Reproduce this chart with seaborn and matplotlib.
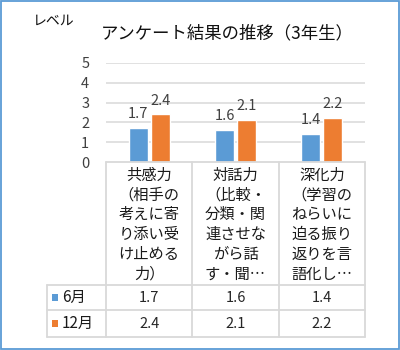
import matplotlib
matplotlib.use("Agg")
import matplotlib.pyplot as plt
import seaborn as sns
import pandas as pd
from matplotlib.patches import Rectangle
from matplotlib.lines import Line2D
from matplotlib.transforms import blended_transform_factory

# ---- data ----
categories = [
    "共感力\n（相手の\n考えに寄\nり添い受\nけ止める\n力）",
    "対話力\n（比較・\n分類・関\n連させな\nがら話\nす・聞…",
    "深化力\n（学習の\nねらいに\n迫る振り\n返りを言\n語化し…",
]
series_names = ["6月", "12月"]
june = [1.7, 1.6, 1.4]
december = [2.4, 2.1, 2.2]
yticks = [0, 1, 2, 3, 4, 5]
title = "アンケート結果の推移（3年生）"
ylabel = "レベル"
colors = ["#5B9BD5", "#ED7D31"]

df = pd.DataFrame({
    "cat": categories * 2,
    "series": [series_names[0]] * 3 + [series_names[1]] * 3,
    "value": june + december,
})

sns.set_theme(style="white")
plt.rcParams["font.family"] = ["Noto Sans CJK JP", "DejaVu Sans"]

W, H = 400, 350
fig = plt.figure(figsize=(W / 100, H / 100), dpi=100)
fig.patch.set_facecolor("white")

def fx(px):
    return px / W

def fy(py):
    return 1 - py / H

# plot area in pixels
L, R, T, B = 106, 365, 63, 162
ax = fig.add_axes([fx(L), fy(B), fx(R) - fx(L), fy(T) - fy(B)])

sns.barplot(data=df, x="cat", y="value", hue="series", palette=colors,
            width=0.51, gap=0.14, ax=ax, legend=False, saturation=1)
ax.set_xlim(-0.5, 2.5)
ax.set_ylim(0, 5)
ax.set_yticks(yticks)
ax.set_yticklabels([str(t) for t in yticks], fontsize=10.5, color="#404040")
ax.tick_params(axis="y", length=0, pad=12)
ax.set_xticks([])
ax.set_xlabel("")
ax.set_ylabel("")
for s in ax.spines.values():
    s.set_visible(False)
for t in yticks[1:]:
    ax.axhline(t, color="#D9D9D9", lw=1.1, zorder=0)
ax.set_axisbelow(True)

for cont in ax.containers:
    ax.bar_label(cont, fmt="%.1f", padding=5, fontsize=10.5, color="#404040")

# ---- data table below the plot ----
tline = dict(color="#D9D9D9", lw=1.3)
TAB_L = 47
ROW1, ROW2, ROW3 = 285, 310, 337
trans_x = blended_transform_factory(ax.transData, fig.transFigure)

# horizontal lines
fig.add_artist(Line2D([fx(L), fx(R)], [fy(B), fy(B)], **tline))
for yy in (ROW1, ROW2, ROW3):
    fig.add_artist(Line2D([fx(TAB_L), fx(R)], [fy(yy), fy(yy)], **tline))
# vertical lines at category boundaries
for xb in [-0.5, 0.5, 1.5, 2.5]:
    fig.add_artist(Line2D([xb, xb], [fy(B), fy(ROW3)], transform=trans_x, **tline))
fig.add_artist(Line2D([fx(TAB_L), fx(TAB_L)], [fy(ROW1), fy(ROW3)], **tline))

# category labels
for i, lab in enumerate(categories):
    for j, line in enumerate(lab.split("\n")):
        fig.text(i, fy(175 + j * 19.8), line, transform=trans_x,
                 ha="center", va="center", fontsize=11, color="#1a1a1a")

# values rows
rows = [june, december]
row_centers = [(ROW1 + ROW2) / 2, (ROW2 + ROW3) / 2]
for r, (vals, name, col) in enumerate(zip(rows, series_names, colors)):
    yc = row_centers[r]
    for i, v in enumerate(vals):
        fig.text(i, fy(yc), f"{v:.1f}", transform=trans_x, ha="center",
                 va="center", fontsize=10.5, color="#262626")
    fig.add_artist(Rectangle((fx(52), fy(yc + 3.5)), fx(6), 7 / H,
                             facecolor=col, edgecolor="none"))
    fig.text(fx(62), fy(yc), name, ha="left", va="center",
             fontsize=11, color="#1a1a1a")

# title and unit label
fig.text(fx(227), fy(33), title, ha="center", va="center",
         fontsize=12.5, color="#111111")
fig.text(fx(33), fy(21), ylabel, ha="left", va="center",
         fontsize=10, color="#111111")

# outer border
fig.add_artist(Rectangle((0.002, 0.003), 0.995, 0.993, transform=fig.transFigure,
                         fill=False, edgecolor="#5B9BD5", lw=1.3))

fig.savefig("out.png", dpi=100)
